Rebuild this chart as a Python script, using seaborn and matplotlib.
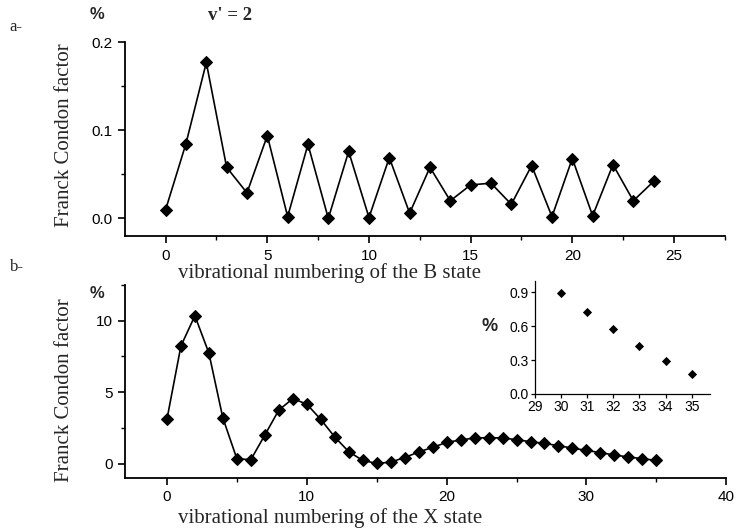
import numpy as np
import pandas as pd
import matplotlib
matplotlib.use("Agg")
import matplotlib.pyplot as plt
from matplotlib.ticker import MultipleLocator, FormatStrFormatter
import seaborn as sns

# Franck-Condon factors (%) for the B state progression
b_levels = list(range(25))
b_fcf = [0.010, 0.085, 0.177, 0.058, 0.029, 0.094, 0.002, 0.084, 0.000, 0.076,
         0.001, 0.069, 0.006, 0.058, 0.020, 0.038, 0.040, 0.016, 0.060, 0.002,
         0.068, 0.003, 0.061, 0.020, 0.042]

# Franck-Condon factors (%) for the X state progression
x_levels = list(range(36))
x_fcf = [3.10, 8.23, 10.35, 7.74, 3.20, 0.35, 0.28, 2.00, 3.75, 4.55,
         4.17, 3.10, 1.87, 0.84, 0.23, 0.02, 0.11, 0.43, 0.82, 1.14,
         1.49, 1.66, 1.80, 1.82, 1.80, 1.68, 1.54, 1.42, 1.26, 1.09,
         0.93, 0.77, 0.61, 0.47, 0.35, 0.23]

# Zoom on the highest X levels
inset_levels = [30, 31, 32, 33, 34, 35]
inset_fcf = [0.89, 0.73, 0.575, 0.426, 0.296, 0.178]

sns.set_theme(style="ticks")
plt.rcParams["font.family"] = ["Liberation Sans", "DejaVu Sans"]

SERIF = ["Liberation Serif", "DejaVu Serif"]
SANS = ["Liberation Sans", "DejaVu Sans"]

fig = plt.figure(figsize=(7.36, 5.28), dpi=100)
fig.patch.set_facecolor("white")

ax_a = fig.add_axes([0.1698, 0.553, 0.815, 0.367])
ax_b = fig.add_axes([0.1698, 0.0947, 0.817, 0.3655])
ax_in = fig.add_axes([0.7269, 0.2538, 0.2378, 0.214])

df_b = pd.DataFrame({"level": b_levels, "fcf": b_fcf})
df_x = pd.DataFrame({"level": x_levels, "fcf": x_fcf})
df_in = pd.DataFrame({"level": inset_levels, "fcf": inset_fcf})

line_kw = dict(color="black", linewidth=1.2, marker="D", markersize=6,
               markeredgecolor="black", markerfacecolor="black")
sns.lineplot(data=df_b, x="level", y="fcf", ax=ax_a, **line_kw)
sns.lineplot(data=df_x, x="level", y="fcf", ax=ax_b, **line_kw)
sns.scatterplot(data=df_in, x="level", y="fcf", ax=ax_in, color="black",
                marker="D", s=22, edgecolor="black", linewidth=0)

def style_axis(ax, tick_size=11, pad=4):
    for side in ("top", "right"):
        ax.spines[side].set_visible(False)
    for side in ("left", "bottom"):
        ax.spines[side].set_linewidth(1.3)
        ax.spines[side].set_color("black")
    ax.tick_params(axis="both", which="major", direction="out", length=5,
                   width=1.2, colors="black", labelsize=tick_size, pad=pad)
    ax.tick_params(axis="both", which="minor", direction="out", length=3,
                   width=1.0, colors="black")
    for lab in ax.get_xticklabels() + ax.get_yticklabels():
        lab.set_family(SANS)
    ax.set_xlabel("")
    ax.set_ylabel("")
    ax.set_facecolor("white")
    ax.grid(False)

# Panel a
ax_a.set_xlim(-2, 27.5)
ax_a.set_ylim(-0.02, 0.2)
ax_a.xaxis.set_major_locator(MultipleLocator(5))
ax_a.xaxis.set_minor_locator(MultipleLocator(2.5))
ax_a.yaxis.set_major_locator(MultipleLocator(0.1))
ax_a.yaxis.set_minor_locator(MultipleLocator(0.05))
ax_a.yaxis.set_major_formatter(FormatStrFormatter("%.1f"))
style_axis(ax_a)

# Panel b
ax_b.set_xlim(-3, 40)
ax_b.set_ylim(-1, 12.5)
ax_b.xaxis.set_major_locator(MultipleLocator(10))
ax_b.xaxis.set_minor_locator(MultipleLocator(5))
ax_b.yaxis.set_major_locator(MultipleLocator(5))
ax_b.yaxis.set_minor_locator(MultipleLocator(2.5))
style_axis(ax_b)

# Inset
ax_in.set_xlim(29, 35.7)
ax_in.set_ylim(0, 1.0)
ax_in.xaxis.set_major_locator(MultipleLocator(1))
ax_in.yaxis.set_major_locator(MultipleLocator(0.3))
ax_in.yaxis.set_major_formatter(FormatStrFormatter("%.1f"))
style_axis(ax_in, tick_size=10, pad=1.5)
for side in ("left", "bottom"):
    ax_in.spines[side].set_linewidth(0.9)
ax_in.tick_params(axis="both", which="major", length=3, width=0.9)
ax_in.patch.set_alpha(0)

# Labels
fig.text(0.013, 0.948, "a-", fontsize=12, family=SERIF, ha="left", va="center")
fig.text(0.013, 0.494, "b-", fontsize=12, family=SERIF, ha="left", va="center")
fig.text(0.132, 0.972, "%", fontsize=12, fontweight="bold", family=SANS,
         ha="center", va="center")
fig.text(0.132, 0.445, "%", fontsize=12, fontweight="bold", family=SANS,
         ha="center", va="center")
fig.text(0.665, 0.381, "%", fontsize=13, fontweight="bold", family=SANS,
         ha="center", va="center")
fig.text(0.3125, 0.970, "v' = 2", fontsize=13.5, fontweight="bold",
         family=SERIF, ha="center", va="center")
fig.text(0.088, 0.745, "Franck Condon factor", rotation=90, fontsize=15,
         family=SERIF, ha="center", va="center")
fig.text(0.088, 0.262, "Franck Condon factor", rotation=90, fontsize=15,
         family=SERIF, ha="center", va="center")
fig.text(0.448, 0.483, "vibrational numbering of the B state", fontsize=15,
         family=SERIF, ha="center", va="center")
fig.text(0.448, 0.019, "vibrational numbering of the X state", fontsize=15,
         family=SERIF, ha="center", va="center")

fig.savefig("out.png", dpi=100, facecolor="white")
